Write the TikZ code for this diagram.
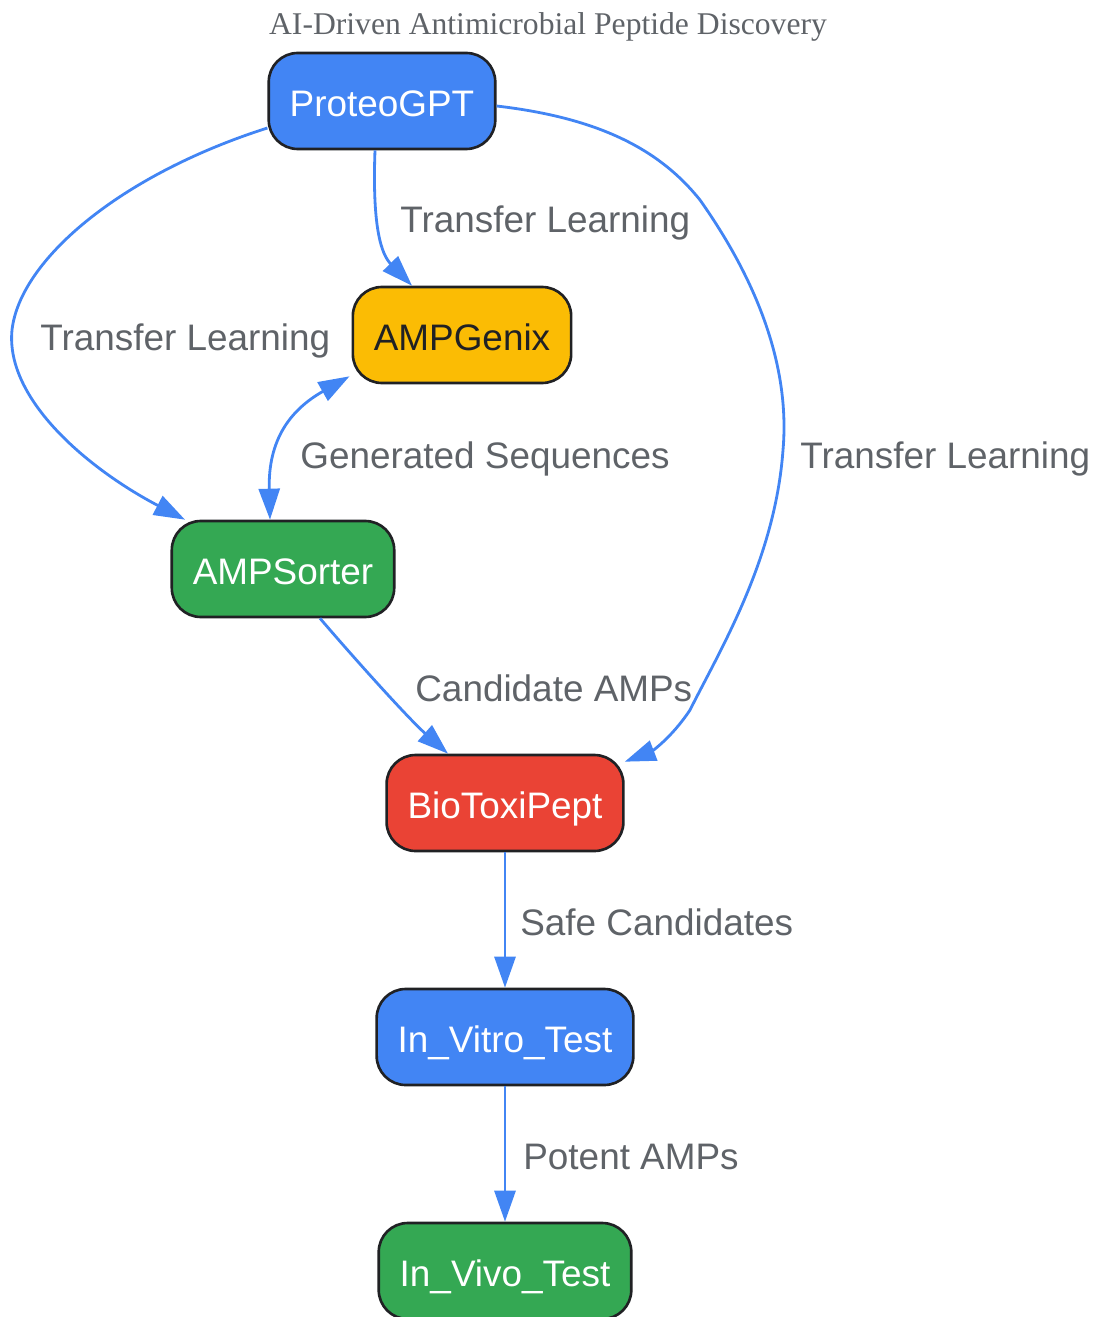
\documentclass[tikz,border=0pt]{standalone}
\usepackage{fontspec}
\setmainfont{Liberation Serif}
\setsansfont{Liberation Sans}
\usetikzlibrary{arrows.meta}

\definecolor{gblau}{HTML}{4285F4}
\definecolor{ggelb}{HTML}{FBBC04}
\definecolor{ggruen}{HTML}{34A853}
\definecolor{grot}{HTML}{EA4335}
\definecolor{ggrau}{HTML}{5F6368}
\definecolor{grand}{HTML}{202124}

\begin{document}
\begin{tikzpicture}[x=0.02cm, y=-0.02cm,
    box/.style={draw=grand, line width=1.5pt, rounded corners=0.58cm,
                minimum height=1.92cm, inner xsep=0.42cm, inner ysep=0pt,
                text height=17.8pt, text depth=0pt,
                font=\sffamily\fontsize{21}{25}\selectfont, text=white},
    pfeil/.style={draw=gblau, line width=1.6pt, -{Triangle[length=0.62cm, width=0.42cm]}},
    etikett/.style={anchor=base west, inner sep=0pt, text=ggrau,
                    font=\sffamily\fontsize{21}{25}\selectfont}
    ]
    \useasboundingbox (0,0) rectangle (1096,1317);

    % Titel
    \node[text=ggrau, font=\fontsize{18}{22}\selectfont] (T) at (548,27)
    {AI-Driven Antimicrobial Peptide Discovery};

    % Knoten
    \node[box, fill=gblau] (P) at (382,101) {ProteoGPT};
    \node[box, fill=ggelb, text=grand] (G) at (462,335) {AMPGenix};
    \node[box, fill=ggruen] (S) at (283,569) {AMPSorter};
    \node[box, fill=grot] (B) at (505,803) {BioToxiPept};
    \node[box, fill=gblau] (Vt) at (505,1037) {In\_Vitro\_Test};
    \node[box, fill=ggruen] (Vv) at (505,1271) {In\_Vivo\_Test};

    % Transfer Learning
    \draw[pfeil] ([xshift=-0.14cm]P.south) .. controls (372,230) and (382,255)
    .. ([xshift=-1cm]G.north);
    \draw[pfeil] ([yshift=-0.54cm]P.west) .. controls (120,175) and (20,260)
    .. (12,330) .. controls (5,400) and (90,470) .. ([xshift=-1.96cm]S.north);
    \draw[pfeil] ([yshift=-0.1cm]P.east) .. controls (600,118) and (660,150)
    .. (700,200) .. controls (760,285) and (790,370) .. (783,450)
    .. controls (775,560) and (720,650) .. (690,710)
    .. controls (670,740) and (650,752) .. ([yshift=-0.16cm]B.north east);

    % Generierte Sequenzen (beidseitig)
    \draw[pfeil, {Triangle[length=0.62cm, width=0.42cm]}-{Triangle[length=0.62cm, width=0.42cm]}]
    ([xshift=-0.26cm]S.north) .. controls (268,440) and (290,410)
    .. ([xshift=-0.04cm, yshift=0.16cm]G.south west);

    % Kandidaten und Tests
    \draw[pfeil] ([xshift=0.74cm]S.south) .. controls (360,665) and (410,720)
    .. ([xshift=-1.14cm]B.north);
    \draw[pfeil] (B.south) -- (Vt.north);
    \draw[pfeil] (Vt.south) -- (Vv.north);

    % Beschriftungen
    \node[etikett] (l1) at (400,233) {Transfer Learning};
    \node[etikett] (l2) at (40,351) {Transfer Learning};
    \node[etikett] (l3) at (800,468) {Transfer Learning};
    \node[etikett] (l4) at (300,468) {Generated Sequences};
    \node[etikett] (l5) at (415,701) {Candidate AMPs};
    \node[etikett] (l6) at (520,935) {Safe Candidates};
    \node[etikett] (l7) at (523,1169) {Potent AMPs};

\end{tikzpicture}
\end{document}
